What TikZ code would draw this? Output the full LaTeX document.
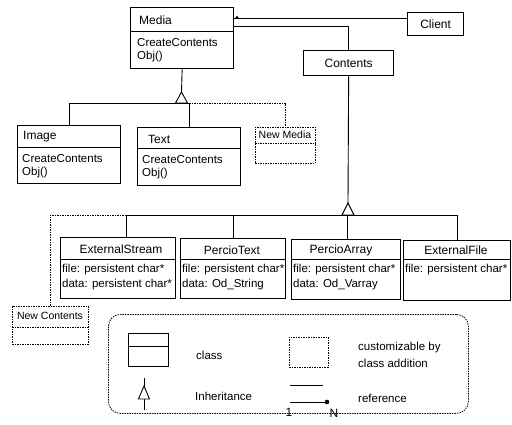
\documentclass[tikz,border=0pt]{standalone}
\usepackage{fontspec}
\setmainfont{Liberation Sans}
\newcommand{\fsz}{\fontsize{11.5}{14}\selectfont}
\newcommand{\nsz}{\fontsize{12}{14}\selectfont}
\begin{document}
\begin{tikzpicture}[x=1pt,y=-1pt,
  cls/.style={draw, line width=1.3pt, inner sep=0pt, anchor=north west},
  ext/.style={draw, line width=0.8pt, dash pattern=on 1.5pt off 1pt, inner sep=0pt, anchor=north west},
  lbl/.style={inner sep=0pt, anchor=west, font=\fsz},
  ctr/.style={inner sep=0pt, anchor=center, font=\nsz},
  link/.style={line width=0.9pt},
  dlink/.style={line width=0.8pt, dash pattern=on 1.5pt off 1pt},
  divl/.style={line width=1pt},
  ddiv/.style={line width=0.8pt, dash pattern=on 1.5pt off 1pt},
  inh/.style={line width=0.9pt, fill=white}]
\useasboundingbox (0,0) rectangle (512,425);
\fill[white] (0,0) rectangle (512,425);

% ---------- Media hierarchy ----------
\node[cls, minimum width=103pt, minimum height=61pt] (media) at (130,7) {};
\draw[divl] (media.west |- 0,32) -- (media.east |- 0,32);
\node[lbl, font=\nsz] (medianame) at (139,20) {Media};
\node[lbl] (mediaop1) at (137,43) {CreateContents};
\node[lbl] (mediaop2) at (137,57) {Obj()};

\node[cls, minimum width=103pt, minimum height=58pt] (image) at (17,125) {};
\draw[divl] (image.west |- 0,148) -- (image.east |- 0,148);
\node[lbl, font=\nsz] (imagename) at (23,137) {Image};
\node[lbl] (imageop1) at (22,159) {CreateContents};
\node[lbl] (imageop2) at (22,173) {Obj()};

\node[cls, minimum width=103pt, minimum height=58pt] (text) at (137,127) {};
\draw[divl] (text.west |- 0,149) -- (text.east |- 0,149);
\node[lbl, font=\nsz] (textname) at (148,139) {Text};
\node[lbl] (textop1) at (142,160) {CreateContents};
\node[lbl] (textop2) at (142,174) {Obj()};

\node[ext, minimum width=60pt, minimum height=36pt] (newmedia) at (255,127) {};
\draw[ddiv] (newmedia.west |- 0,143) -- (newmedia.east |- 0,143);
\node[ctr, font=\fontsize{10.5}{12}\selectfont] (newmedianame) at (285,135) {New Media};

\coordinate (mtri) at (181.5,103);
\draw[link] (media.south) -- (181.5,92);
\draw[inh] (181.5,92) -- (187.5,103) -- (175.5,103) -- cycle;
\draw[link] (image.north) |- (mtri);
\draw[link] (mtri) -| (text.north);
\draw[dlink] (text.north |- mtri) -| (newmedia.north);

% ---------- Client and Contents ----------
\node[cls, minimum width=56pt, minimum height=23pt] (client) at (407,12) {};
\node[ctr] (clientname) at (client.center) {Client};

\node[cls, minimum width=90pt, minimum height=25pt] (contents) at (303,50) {};
\node[ctr] (contentsname) at (contents.center) {Contents};

\coordinate (mref) at (media.east |- 0,18);
\draw[link] (mref) -- (client.west |- 0,18);
\fill (237,17.5) circle (1.6pt);
\draw[link] (media.east |- 0,26) -| (contents.north);

% ---------- Contents hierarchy ----------
\node[cls, minimum width=115pt, minimum height=61pt] (estream) at (60,237) {};
\draw[divl] (estream.west |- 0,260) -- (estream.east |- 0,260);
\node[ctr] (estreamname) at (121,249) {ExternalStream};
\node[lbl] (estreama1) at (62,270) {file: persistent char*};
\node[lbl] (estreama2) at (62,285) {data: persistent char*};

\node[cls, minimum width=105pt, minimum height=60pt] (ptext) at (180,238) {};
\draw[divl] (ptext.west |- 0,260) -- (ptext.east |- 0,260);
\node[ctr] (ptextname) at (232,250) {PercioText};
\node[lbl] (ptexta1) at (182,270) {file: persistent char*};
\node[lbl] (ptexta2) at (182,285) {data: Od\_String};

\node[cls, minimum width=109pt, minimum height=60pt] (parray) at (291,239) {};
\draw[divl] (parray.west |- 0,260) -- (parray.east |- 0,260);
\node[ctr] (parrayname) at (341,250) {PercioArray};
\node[lbl] (parraya1) at (293,270) {file: persistent char*};
\node[lbl] (parraya2) at (293,285) {data: Od\_Varray};

\node[cls, minimum width=107pt, minimum height=60pt] (efile) at (403,240) {};
\draw[divl] (efile.west |- 0,260) -- (efile.east |- 0,260);
\node[ctr] (efilename) at (456,250) {ExternalFile};
\node[lbl] (efilea1) at (405,270) {file: persistent char*};

\node[ext, minimum width=76pt, minimum height=38pt] (newcontents) at (12,306) {};
\draw[ddiv] (newcontents.west |- 0,327) -- (newcontents.east |- 0,327);
\node[ctr, font=\fontsize{10.5}{12}\selectfont] (newcontentsname) at (50,316) {New Contents};

\coordinate (ctri) at (348,215);
\draw[link] (contents.south) -- (348,203);
\draw[inh] (348,203) -- (354,215) -- (342,215) -- cycle;
\draw[link] (126,215) -- (efile.north |- ctri);
\draw[link] (126,215) -- (126,237);
\draw[link] (233,215) -- (233,238);
\draw[link] (347,215) -- (347,239);
\draw[link] (efile.north |- ctri) -- (efile.north);
\draw[dlink] (126,215) -| (newcontents.north);

% ---------- Legend ----------
\node[draw, line width=0.8pt, dash pattern=on 1.5pt off 1pt, rounded corners=12pt,
  minimum width=360pt, minimum height=99pt, anchor=north west, inner sep=0pt] (legend) at (108,314) {};

\node[cls, minimum width=40pt, minimum height=33pt] (legclass) at (128,333) {};
\draw[divl] (legclass.west |- 0,346) -- (legclass.east |- 0,346);
\node[lbl] (legclasstxt) at (196,355) {class};

\node[ext, minimum width=39pt, minimum height=30pt] (legext) at (289,337) {};
\node[lbl] (legexttxt1) at (358,348) {customizable by};
\node[lbl] (legexttxt2) at (358,363) {class addition};

\coordinate (inhtop) at (144,378);
\coordinate (inhbot) at (144,410);
\draw[link] (inhtop) -- (inhbot);
\draw[inh] (144,386) -- (149.5,399) -- (138.5,399) -- cycle;
\node[lbl] (leginhtxt) at (195,396) {Inheritance};

\coordinate (ref1a) at (290,385);
\coordinate (ref1b) at (323,385);
\draw[link] (ref1a) -- (ref1b);
\coordinate (ref2a) at (290,402);
\coordinate (ref2b) at (327,402);
\draw[link] (ref2a) -- (ref2b);
\fill (ref2b) circle (2.3pt);
\node[ctr] (one) at (289,412) {1};
\node[ctr] (enn) at (334,413) {N};
\node[lbl] (legreftxt) at (358,398) {reference};
\end{tikzpicture}
\end{document}
